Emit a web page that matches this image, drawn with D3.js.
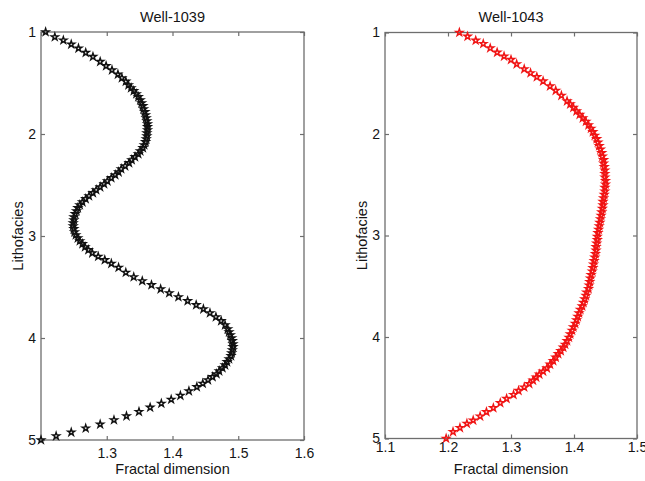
<!DOCTYPE html>
<html>
<head>
<meta charset="utf-8">
<script src="https://cdn.jsdelivr.net/npm/d3@7"></script>
<style>
  body { margin: 0; background: #fff; }
  text { font-family: "Liberation Sans", Arial, Helvetica, sans-serif; fill: #151515; }
</style>
</head>
<body>
<div id="graph"></div>
<script>
const WIDTH = 645, HEIGHT = 481;

// Well-1039 : lithofacies (depth axis) and fractal dimension
const litho1039 = [1.000,1.049,1.081,1.121,1.160,1.203,1.242,1.291,1.333,1.373,1.415,1.451,1.485,1.520,1.549,1.578,1.608,1.637,1.667,1.696,
  1.725,1.755,1.784,1.814,1.843,1.873,1.902,1.931,1.961,1.990,2.020,2.049,2.078,2.108,2.137,2.167,2.196,2.225,2.255,2.284,
  2.314,2.343,2.373,2.402,2.431,2.461,2.490,2.520,2.549,2.578,2.608,2.637,2.667,2.696,2.725,2.755,2.784,2.814,2.843,2.873,
  2.902,2.931,2.961,2.990,3.020,3.049,3.078,3.108,3.137,3.167,3.201,3.235,3.270,3.309,3.358,3.402,3.441,3.480,3.520,3.559,
  3.598,3.637,3.676,3.716,3.755,3.794,3.833,3.873,3.912,3.941,3.971,4.000,4.029,4.059,4.088,4.118,4.147,4.176,4.206,4.235,
  4.265,4.294,4.324,4.353,4.382,4.412,4.446,4.480,4.520,4.564,4.603,4.642,4.681,4.723,4.765,4.804,4.846,4.885,4.925,4.961,5.000];
const fd1039 = [1.207,1.221,1.234,1.246,1.257,1.268,1.279,1.290,1.299,1.308,1.317,1.323,1.329,1.333,1.337,1.341,1.345,1.348,1.351,1.353,
  1.355,1.356,1.358,1.359,1.360,1.361,1.362,1.362,1.362,1.361,1.361,1.360,1.359,1.357,1.355,1.351,1.348,1.343,1.338,1.334,
  1.328,1.322,1.318,1.313,1.307,1.301,1.296,1.290,1.284,1.279,1.273,1.268,1.263,1.259,1.256,1.254,1.252,1.250,1.250,1.249,
  1.249,1.250,1.251,1.253,1.256,1.259,1.263,1.267,1.272,1.278,1.287,1.297,1.307,1.318,1.329,1.341,1.354,1.368,1.382,1.395,
  1.409,1.423,1.436,1.447,1.457,1.466,1.474,1.480,1.484,1.486,1.488,1.490,1.491,1.492,1.492,1.491,1.490,1.489,1.486,1.483,
  1.480,1.476,1.471,1.467,1.461,1.454,1.446,1.437,1.425,1.412,1.398,1.383,1.366,1.349,1.330,1.311,1.290,1.268,1.246,1.223,1.200];

// Well-1043
const litho1043 = [1.000,1.039,1.078,1.111,1.154,1.196,1.235,1.268,1.311,1.360,1.399,1.438,1.480,1.529,1.572,1.621,1.676,1.706,1.740,1.775,
  1.809,1.843,1.877,1.912,1.946,1.980,2.015,2.049,2.083,2.118,2.152,2.186,2.221,2.255,2.289,2.324,2.358,2.392,2.426,2.461,
  2.495,2.529,2.564,2.598,2.632,2.667,2.701,2.735,2.770,2.804,2.838,2.873,2.907,2.941,2.975,3.010,3.044,3.078,3.113,3.147,
  3.181,3.216,3.250,3.284,3.319,3.353,3.387,3.422,3.456,3.490,3.525,3.559,3.593,3.627,3.662,3.696,3.730,3.765,3.799,3.833,
  3.868,3.902,3.936,3.971,4.005,4.039,4.074,4.103,4.137,4.167,4.201,4.235,4.270,4.307,4.338,4.368,4.397,4.428,4.461,4.495,
  4.529,4.569,4.608,4.650,4.699,4.738,4.781,4.821,4.853,4.895,4.934,5.000];
const fd1043 = [1.218,1.231,1.244,1.256,1.267,1.278,1.289,1.300,1.309,1.321,1.331,1.341,1.351,1.362,1.371,1.380,1.389,1.394,1.399,1.404,
  1.409,1.414,1.419,1.423,1.427,1.430,1.433,1.436,1.438,1.440,1.442,1.444,1.445,1.447,1.447,1.448,1.449,1.449,1.449,1.450,
  1.450,1.449,1.449,1.448,1.447,1.446,1.446,1.445,1.444,1.443,1.442,1.441,1.440,1.439,1.438,1.437,1.437,1.436,1.435,1.435,
  1.434,1.433,1.432,1.431,1.430,1.429,1.427,1.426,1.425,1.424,1.423,1.420,1.419,1.417,1.415,1.413,1.410,1.408,1.406,1.404,
  1.402,1.399,1.397,1.394,1.392,1.389,1.386,1.383,1.379,1.375,1.371,1.367,1.362,1.357,1.351,1.345,1.340,1.335,1.329,1.321,
  1.312,1.304,1.293,1.283,1.272,1.261,1.251,1.240,1.230,1.219,1.208,1.197];

// tick labels
const lithoTicks = [1, 2, 3, 4, 5];
const fdTicks1039 = [1.3, 1.4, 1.5, 1.6];
const fdTicks1043 = [1.1, 1.2, 1.3, 1.4, 1.5];

// layout of the two panels (pixels)
let panels = [
  { title: "Well-1039", litho: litho1039, fd: fd1039, domain: [1.2, 1.6], ticks: fdTicks1039, allTicks: [1.2, 1.3, 1.4, 1.5, 1.6],
    color: "#111111", left: 41, right: 304, top: 32, bottom: 440, xPad: 8, yLabelX: 23 },
  { title: "Well-1043", litho: litho1043, fd: fd1043, domain: [1.1, 1.5], ticks: fdTicks1043, allTicks: fdTicks1043,
    color: "#f01414", left: 385, right: 637, top: 32.5, bottom: 438.5, xPad: 3.5, yLabelX: 367 }
];

var svg = d3.select("#graph")
    .append("svg")
    .attr("width", WIDTH)
    .attr("height", HEIGHT)
    .style("display", "block");

svg.append("rect")
    .attr("width", WIDTH)
    .attr("height", HEIGHT)
    .attr("fill", "#fff");

panels.forEach(function(p) {
    let x = d3.scaleLinear().domain(p.domain).range([p.left, p.right]);
    let y = d3.scaleLinear().domain([1, 5]).range([p.top, p.bottom]);
    let g = svg.append("g");

    // inward ticks on all four sides, like matlab's box
    g.append("g")
        .attr("transform", `translate(0,${p.bottom})`)
        .call(d3.axisBottom(x).tickValues(p.ticks).tickSizeInner(-4).tickSizeOuter(0)
            .tickPadding(p.xPad).tickFormat(d3.format(".1f")));
    g.append("g")
        .attr("transform", `translate(0,${p.top})`)
        .call(d3.axisTop(x).tickValues(p.allTicks).tickSizeInner(-4).tickSizeOuter(0).tickFormat(""));
    g.append("g")
        .attr("transform", `translate(${p.left},0)`)
        .call(d3.axisLeft(y).tickValues(lithoTicks).tickSizeInner(-4).tickSizeOuter(0)
            .tickPadding(5).tickFormat(d3.format("d")));
    g.append("g")
        .attr("transform", `translate(${p.right},0)`)
        .call(d3.axisRight(y).tickValues(lithoTicks).tickSizeInner(-4).tickSizeOuter(0).tickFormat(""));

    g.selectAll(".domain").remove();
    g.selectAll(".tick line").attr("stroke", "#6e6e6e").attr("stroke-width", 1.2);
    g.selectAll(".tick text")
        .style("font-size", "14px")
        .attr("fill", "#151515");

    // frame
    g.append("rect")
        .attr("x", p.left)
        .attr("y", p.top)
        .attr("width", p.right - p.left)
        .attr("height", p.bottom - p.top)
        .attr("fill", "none")
        .attr("stroke", "#6e6e6e")
        .attr("stroke-width", 1.3);

    // star markers
    let pts = d3.zip(p.litho, p.fd);
    let star = d3.symbol().type(d3.symbolStar).size(15);
    g.append("g")
        .selectAll("path")
        .data(pts)
        .enter()
        .append("path")
        .attr("d", star)
        .attr("transform", function(d) { return `translate(${x(d[1])},${y(d[0])})`; })
        .attr("fill", "none")
        .attr("stroke", p.color)
        .attr("stroke-width", 1.45);

    // title
    g.append("text")
        .attr("x", (p.left + p.right) / 2)
        .attr("y", 21.5)
        .style("text-anchor", "middle")
        .style("font-size", "14.5px")
        .text(p.title);

    // x label
    g.append("text")
        .attr("x", (p.left + p.right) / 2)
        .attr("y", 474)
        .style("text-anchor", "middle")
        .style("font-size", "14.5px")
        .text("Fractal dimension");

    // y label
    g.append("text")
        .attr("transform", `translate(${p.yLabelX},${(p.top + p.bottom) / 2}) rotate(-90)`)
        .style("text-anchor", "middle")
        .style("font-size", "14.5px")
        .text("Lithofacies");
});
</script>
</body>
</html>
